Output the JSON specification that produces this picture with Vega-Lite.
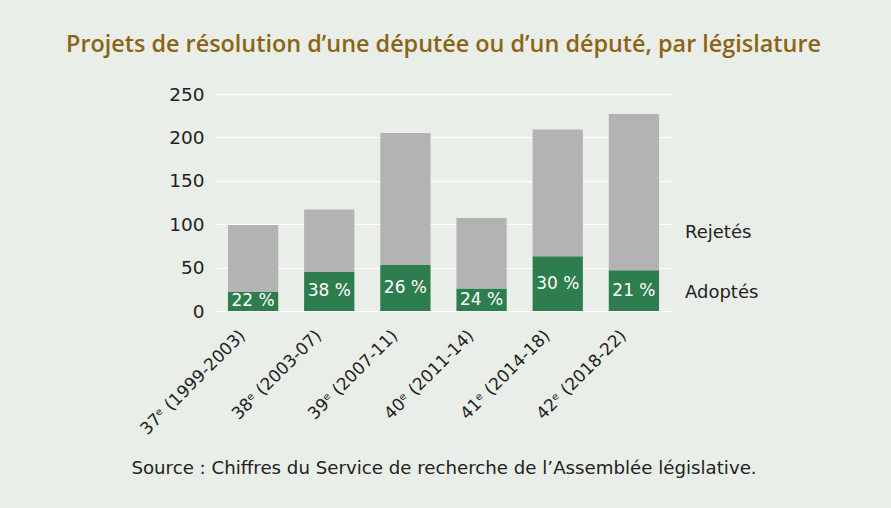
{
  "$schema": "https://vega.github.io/schema/vega-lite/v6.json",
  "width": 457,
  "height": 217,
  "autosize": {"type": "none"},
  "padding": {"left": 215, "top": 94, "right": 219, "bottom": 197},
  "background": "#eaeee8",
  "config": {
    "view": {"stroke": null},
    "font": "DejaVu Sans",
    "axis": {"labelFont": "DejaVu Sans", "titleFont": "DejaVu Sans"},
    "legend": {"labelFont": "DejaVu Sans"}
  },
  "title": {
    "text": "Projets de résolution d’une députée ou d’un député, par législature",
    "fontSize": 23.4,
    "fontWeight": 600,
    "color": "#8a6516",
    "font": "Open Sans",
    "anchor": "middle",
    "offset": 28
  },
  "data": {
    "values": [
      {"legislature": "37ᵉ (1999-2003)", "type": "Adoptés", "value": 22, "pct": "22 %"},
      {"legislature": "37ᵉ (1999-2003)", "type": "Rejetés", "value": 77, "pct": ""},
      {"legislature": "38ᵉ (2003-07)", "type": "Adoptés", "value": 45, "pct": "38 %"},
      {"legislature": "38ᵉ (2003-07)", "type": "Rejetés", "value": 72, "pct": ""},
      {"legislature": "39ᵉ (2007-11)", "type": "Adoptés", "value": 53, "pct": "26 %"},
      {"legislature": "39ᵉ (2007-11)", "type": "Rejetés", "value": 152, "pct": ""},
      {"legislature": "40ᵉ (2011-14)", "type": "Adoptés", "value": 26, "pct": "24 %"},
      {"legislature": "40ᵉ (2011-14)", "type": "Rejetés", "value": 81, "pct": ""},
      {"legislature": "41ᵉ (2014-18)", "type": "Adoptés", "value": 63, "pct": "30 %"},
      {"legislature": "41ᵉ (2014-18)", "type": "Rejetés", "value": 146, "pct": ""},
      {"legislature": "42ᵉ (2018-22)", "type": "Adoptés", "value": 47, "pct": "21 %"},
      {"legislature": "42ᵉ (2018-22)", "type": "Rejetés", "value": 180, "pct": ""}
    ]
  },
  "encoding": {
    "x": {
      "field": "legislature",
      "type": "nominal",
      "sort": null,
      "scale": {"paddingInner": 0.34, "paddingOuter": 0.17},
      "axis": {
        "title": "Source : Chiffres du Service de recherche de l’Assemblée législative.",
        "titleFontSize": 18.2,
        "titleFontWeight": "normal",
        "titleColor": "#222222",
        "titlePadding": 22,
        "labelAngle": -45,
        "labelFontSize": 17,
        "labelColor": "#222222",
        "labelPadding": 16,
        "labelOffset": -16,
        "domain": false,
        "ticks": false
      }
    }
  },
  "layer": [
    {
      "mark": {"type": "bar"},
      "encoding": {
        "y": {
          "field": "value",
          "type": "quantitative",
          "stack": "zero",
          "scale": {"domain": [0, 250]},
          "axis": {
            "title": null,
            "values": [0, 50, 100, 150, 200, 250],
            "labelFontSize": 18.5,
            "labelColor": "#222222",
            "labelPadding": 11,
            "domain": false,
            "ticks": false,
            "gridColor": "#ffffff",
            "gridWidth": 1.2
          }
        },
        "color": {
          "field": "type",
          "type": "nominal",
          "scale": {"domain": ["Rejetés", "Adoptés"], "range": ["#b3b3b3", "#2e7d4f"]},
          "legend": {
            "title": null,
            "orient": "none",
            "legendX": 452,
            "legendY": 130,
            "direction": "vertical",
            "symbolSize": 0,
            "symbolOpacity": 0,
            "symbolStrokeWidth": 0,
            "labelOffset": 0,
            "labelFontSize": 18,
            "labelColor": "#222222",
            "rowPadding": 42
          }
        },
        "order": {"field": "type", "sort": "ascending"}
      }
    },
    {
      "transform": [{"filter": "datum.type === 'Adoptés'"}],
      "mark": {"type": "text", "color": "#ffffff", "fontSize": 17, "baseline": "middle"},
      "encoding": {
        "y": {
          "field": "value",
          "type": "quantitative",
          "scale": {"domain": [0, 500]},
          "axis": null
        },
        "text": {"field": "pct"}
      }
    }
  ],
  "resolve": {"scale": {"y": "independent"}}
}
